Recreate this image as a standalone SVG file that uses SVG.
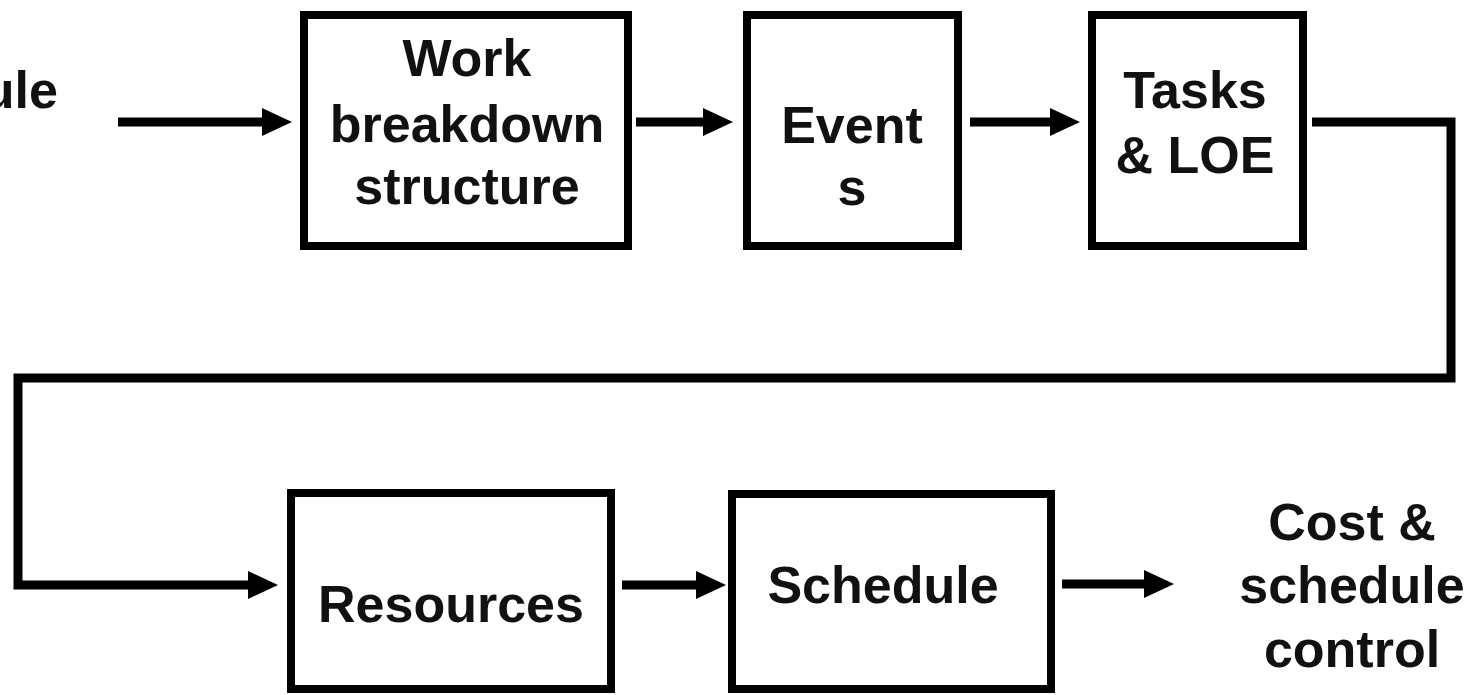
<svg xmlns="http://www.w3.org/2000/svg" width="1476" height="695" viewBox="0 0 1476 695">
<style>
.box{fill:#fff;stroke:#000;stroke-width:8}
.t{font-family:"Liberation Sans",Arial,sans-serif;font-weight:bold;font-size:52px;fill:#111;text-anchor:middle}
.c{fill:none;stroke:#000;stroke-width:9}
</style>
<defs>
<marker id="ah" markerUnits="userSpaceOnUse" markerWidth="30" markerHeight="28" refX="4" refY="14" orient="auto">
<path d="M0,0 L30,14 L0,28 z" fill="#000"/>
</marker>
</defs>
<rect width="1476" height="695" fill="#fff"/>
<text class="t" x="58" y="108" style="text-anchor:end">ule</text>
<g id="connectors">
<path class="c" d="M118,122 H266" marker-end="url(#ah)"/>
<path class="c" d="M636,122 H707" marker-end="url(#ah)"/>
<path class="c" d="M970,122 H1054" marker-end="url(#ah)"/>
<path class="c" d="M1312,122 H1451 V378 H18 V585 H252" marker-end="url(#ah)" stroke-linejoin="miter"/>
<path class="c" d="M622,585 H700" marker-end="url(#ah)"/>
<path class="c" d="M1062,584 H1148" marker-end="url(#ah)"/>
</g>
<g id="wbs">
<rect class="box" x="304" y="15" width="324" height="231"/>
<text class="t" x="467" y="76">Work</text>
<text class="t" x="467" y="142">breakdown</text>
<text class="t" x="467" y="204">structure</text>
</g>
<g id="events">
<rect class="box" x="747" y="15" width="211" height="231"/>
<text class="t" x="852" y="143">Event</text>
<text class="t" x="852" y="205">s</text>
</g>
<g id="tasks">
<rect class="box" x="1092" y="15" width="211" height="231"/>
<text class="t" x="1195" y="108">Tasks</text>
<text class="t" x="1195" y="173">&amp; LOE</text>
</g>
<g id="resources">
<rect class="box" x="291" y="493" width="320" height="196"/>
<text class="t" x="451" y="622">Resources</text>
</g>
<g id="schedule">
<rect class="box" x="732" y="494" width="319" height="195"/>
<text class="t" x="883" y="603">Schedule</text>
</g>
<g id="cost">
<text class="t" x="1352" y="540">Cost &amp;</text>
<text class="t" x="1352" y="603">schedule</text>
<text class="t" x="1352" y="667">control</text>
</g>
</svg>
